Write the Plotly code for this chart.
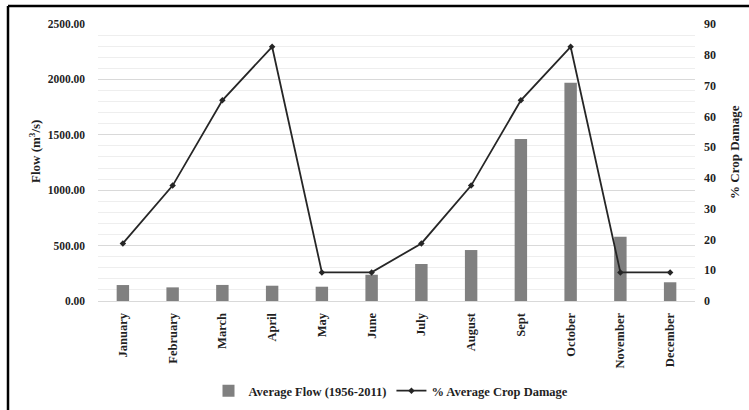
import plotly.graph_objects as go

# Monthly data
months = ["January", "February", "March", "April", "May", "June",
          "July", "August", "Sept", "October", "November", "December"]
avg_flow = [144, 123, 145, 138, 129, 237, 334, 460, 1462, 1970, 580, 169]
crop_damage = [18.7, 37.5, 65.2, 82.6, 9.3, 9.3, 18.7, 37.5, 65.2, 82.6, 9.3, 9.3]

flow_ticks = [0, 500, 1000, 1500, 2000, 2500]
damage_ticks = [0, 10, 20, 30, 40, 50, 60, 70, 80, 90]

W, H = 749, 410
L, R, T, B = 98, 695, 24, 301  # plot area in pixels


def px_x(x):
    return (x - L) / (R - L)


def px_y(y):
    return (B - y) / (B - T)


font_family = "Liberation Serif"
text_color = "#1f1f1f"


def bold_font(size=12):
    return dict(family=font_family, size=size, color=text_color, weight="bold")


fig = go.Figure()

fig.add_trace(go.Bar(
    x=months, y=avg_flow, name="Average Flow (1956-2011)",
    marker=dict(color="#808080", line=dict(width=0)),
    width=0.25, yaxis="y",
))

fig.add_trace(go.Scatter(
    x=months, y=crop_damage, name="% Average Crop Damage",
    mode="lines+markers",
    line=dict(color="#262626", width=1.8),
    marker=dict(symbol="diamond", size=5, color="#262626"),
    yaxis="y2",
))

fig.update_layout(
    width=W, height=H,
    margin=dict(l=L, r=W - R, t=T, b=H - B, autoexpand=False),
    paper_bgcolor="white", plot_bgcolor="white",
    font=bold_font(),
    showlegend=True,
    legend=dict(
        orientation="h", x=px_x(391), y=px_y(391), xanchor="center", yanchor="middle",
        font=bold_font(12.5), itemwidth=30, bgcolor="rgba(0,0,0,0)",
    ),
    xaxis=dict(
        type="category", range=[-0.5, len(months) - 0.5], tickangle=-90,
        showgrid=False, automargin=False,
        showline=True, linecolor="#d9d9d9", linewidth=1,
        ticks="", ticklabelstandoff=6, tickfont=bold_font(12.5),
    ),
    yaxis=dict(
        range=[0, 2500], tickvals=flow_ticks, tickformat=".2f", automargin=False,
        showgrid=True, gridcolor="#d9d9d9", gridwidth=1,
        minor=dict(dtick=100, showgrid=True, gridcolor="#eeeeee", gridwidth=1),
        zeroline=False, showline=False, ticks="",
        ticklabelstandoff=12, tickfont=bold_font(11.5),
    ),
    yaxis2=dict(
        range=[0, 90], tickvals=damage_ticks, overlaying="y", side="right",
        automargin=False, showgrid=False, zeroline=False, showline=False, ticks="",
        ticklabelstandoff=8, tickfont=bold_font(12),
    ),
    bargap=0.75,
)

# Axis titles
fig.add_annotation(
    text="Flow (m<sup>3</sup>/s)", textangle=-90, showarrow=False,
    xref="paper", yref="paper", x=px_x(35), y=px_y(152),
    xanchor="center", yanchor="middle", font=bold_font(13),
)
fig.add_annotation(
    text="% Crop Damage", textangle=-90, showarrow=False,
    xref="paper", yref="paper", x=px_x(734), y=px_y(152),
    xanchor="center", yanchor="middle", font=bold_font(13),
)

# Chart frame: heavy left and top edges
fig.add_shape(type="line", xref="paper", yref="paper",
              x0=px_x(8), x1=px_x(8), y0=px_y(6), y1=px_y(410),
              line=dict(color="black", width=2.5))
fig.add_shape(type="line", xref="paper", yref="paper",
              x0=px_x(8), x1=px_x(749), y0=px_y(6), y1=px_y(6),
              line=dict(color="black", width=2.5))

fig.write_html("out.html")
